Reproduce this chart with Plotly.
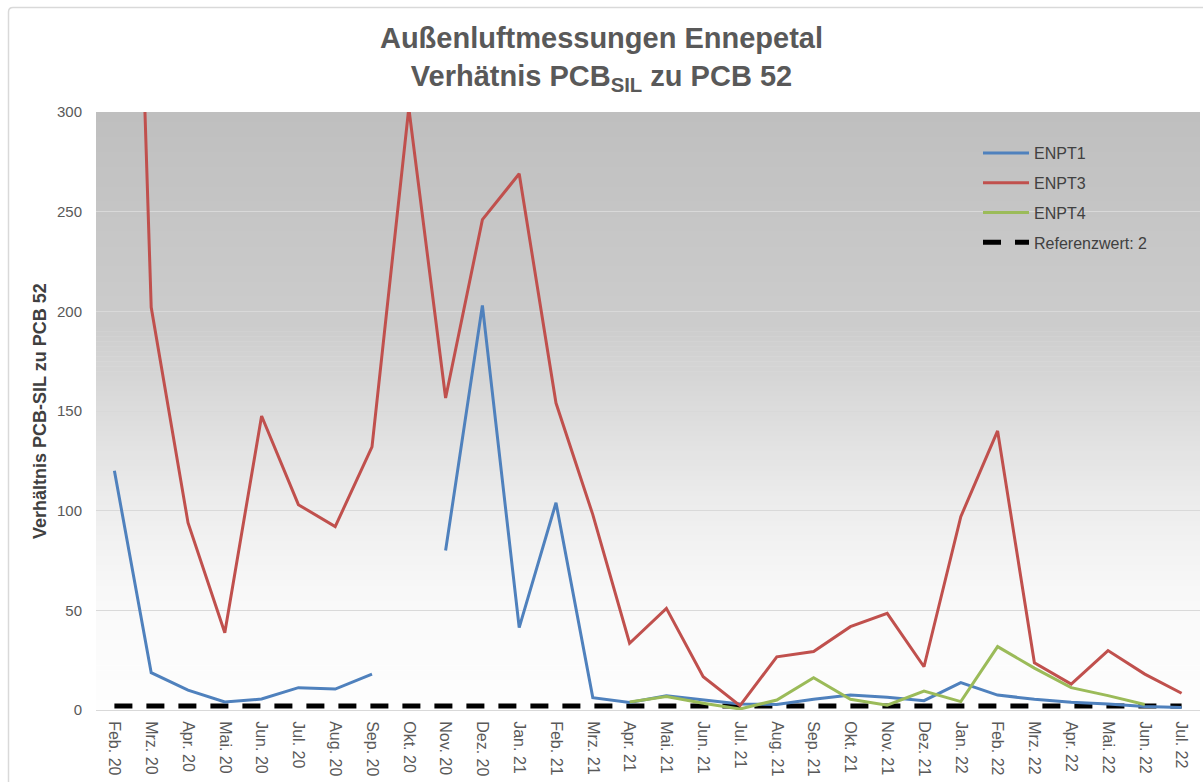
import plotly.graph_objects as go

months = ["Feb. 20", "Mrz. 20", "Apr. 20", "Mai. 20", "Jun. 20", "Jul. 20", "Aug. 20", "Sep. 20",
          "Okt. 20", "Nov. 20", "Dez. 20", "Jan. 21", "Feb. 21", "Mrz. 21", "Apr. 21", "Mai. 21",
          "Jun. 21", "Jul. 21", "Aug. 21", "Sep. 21", "Okt. 21", "Nov. 21", "Dez. 21", "Jan. 22",
          "Feb. 22", "Mrz. 22", "Apr. 22", "Mai. 22", "Jun. 22", "Jul. 22"]

enpt1 = [120, 18.7, 10, 4, 5.5, 11.2, 10.5, 18, None, 80, 203, 41.3, 104, 6.2, 3.8, 7.2,
         5, 3, 2.8, 5.4, 7.5, 6.4, 4.7, 13.7, 7.5, 5.4, 3.9, 3, 1.7, 1.2]
enpt3 = [780, 202, 94, 38.8, 147.5, 103, 92, 132, 302, 156.5, 246, 269, 154, 98, 33.5, 51,
         16.7, 2.2, 26.7, 29.3, 41.8, 48.5, 21.7, 97, 140, 23.7, 13, 29.8, 18, 8.4]
enpt4 = [None, None, None, None, None, None, None, None, None, None, None, None, None, None, 4, 6.7,
         3.4, 0.5, 5, 16.2, 5.4, 2.4, 9.5, 4.2, 31.8, 21, 11.2, 7.2, 2.8, None]
referenzwert = 2

W, H = 1203, 782
L, R, T, B = 96, 3, 112, 72
pw, ph = W - L - R, H - T - B


def px_x(x):
    return (x - L) / pw


def px_y(y):
    return (H - B - y) / ph


fig = go.Figure()

fig.add_trace(go.Scatter(
    x=months, y=[referenzwert] * len(months), mode="lines", name="Referenzwert: 2",
    line=dict(color="black", width=5, dash="18px,14px"), legendrank=4, legendgroup="d"))
fig.add_trace(go.Scatter(
    x=months, y=enpt1, mode="lines", name="ENPT1", connectgaps=False,
    line=dict(color="#4f81bd", width=3), legendrank=1, legendgroup="a"))
fig.add_trace(go.Scatter(
    x=months, y=enpt3, mode="lines", name="ENPT3", connectgaps=False,
    line=dict(color="#c0504d", width=3), legendrank=2, legendgroup="b"))
fig.add_trace(go.Scatter(
    x=months, y=enpt4, mode="lines", name="ENPT4", connectgaps=False,
    line=dict(color="#9bbb59", width=3), legendrank=3, legendgroup="c"))

# gradient background of plot area
stops = [(0.0, 191), (0.35, 204), (0.65, 236), (0.80, 248), (1.0, 254)]


def grey_at(f):
    for (f0, c0), (f1, c1) in zip(stops, stops[1:]):
        if f0 <= f <= f1:
            return c0 + (c1 - c0) * (f - f0) / (f1 - f0)
    return stops[-1][1]


shapes = []
n = 120
for i in range(n):
    f = (i + 0.5) / n
    g = int(round(grey_at(f)))
    shapes.append(dict(type="rect", xref="paper", yref="paper", x0=0, x1=1,
                       y0=1 - (i + 1) / n - 0.001, y1=1 - i / n,
                       fillcolor=f"rgb({g},{g},{g})", line=dict(width=0), layer="below"))
# chart-area border
shapes.append(dict(type="path", xref="paper", yref="paper",
                   path=f"M {px_x(8.5)},{px_y(790)} L {px_x(8.5)},{px_y(12)} Q {px_x(8.5)},{px_y(7.5)} {px_x(13)},{px_y(7.5)} L {px_x(1210)},{px_y(7.5)}",
                   line=dict(color="#d9d9d9", width=1.5), layer="below"))

fig.update_layout(
    width=W, height=H,
    margin=dict(l=L, r=R, t=T, b=B),
    paper_bgcolor="white",
    plot_bgcolor="rgba(0,0,0,0)",
    shapes=shapes,
    font=dict(family="Liberation Sans, Arial, sans-serif", color="#595959"),
    title=dict(
        text="<b>Außenluftmessungen Ennepetal<br>Verhätnis PCB<sub>SIL</sub> zu PCB 52</b>",
        x=0.5, xref="container", xanchor="center",
        y=1 - 48 / H, yref="container", yanchor="middle",
        font=dict(size=29, color="#595959", family="Liberation Sans, Arial, sans-serif")),
    showlegend=True,
    legend=dict(x=px_x(978), y=px_y(136), xanchor="left", yanchor="top",
                bgcolor="rgba(0,0,0,0)", font=dict(size=16, color="#404040"),
                tracegroupgap=6, itemwidth=46),
    annotations=[dict(text="<b>Verhältnis PCB-SIL zu PCB 52</b>", textangle=-90,
                      xref="paper", yref="paper", x=px_x(40), y=0.5,
                      xanchor="center", yanchor="middle", showarrow=False,
                      font=dict(size=18, color="#404040"))],
)

fig.update_xaxes(type="category", range=[-0.5, len(months) - 0.5], tickangle=90,
                 showgrid=False, showline=True, linecolor="#d9d9d9", linewidth=1,
                 ticks="", tickfont=dict(size=16, color="#595959"), fixedrange=True,
                 ticklabelstandoff=7)
fig.update_yaxes(range=[0, 300], dtick=50, showgrid=True, gridcolor="#d9d9d9", gridwidth=1,
                 zeroline=False, showline=False, ticks="",
                 tickfont=dict(size=15, color="#595959"), ticklabelstandoff=13)

fig.write_html("out.html", config={"displayModeBar": False},
               post_script="document.body.style.margin='0';")
